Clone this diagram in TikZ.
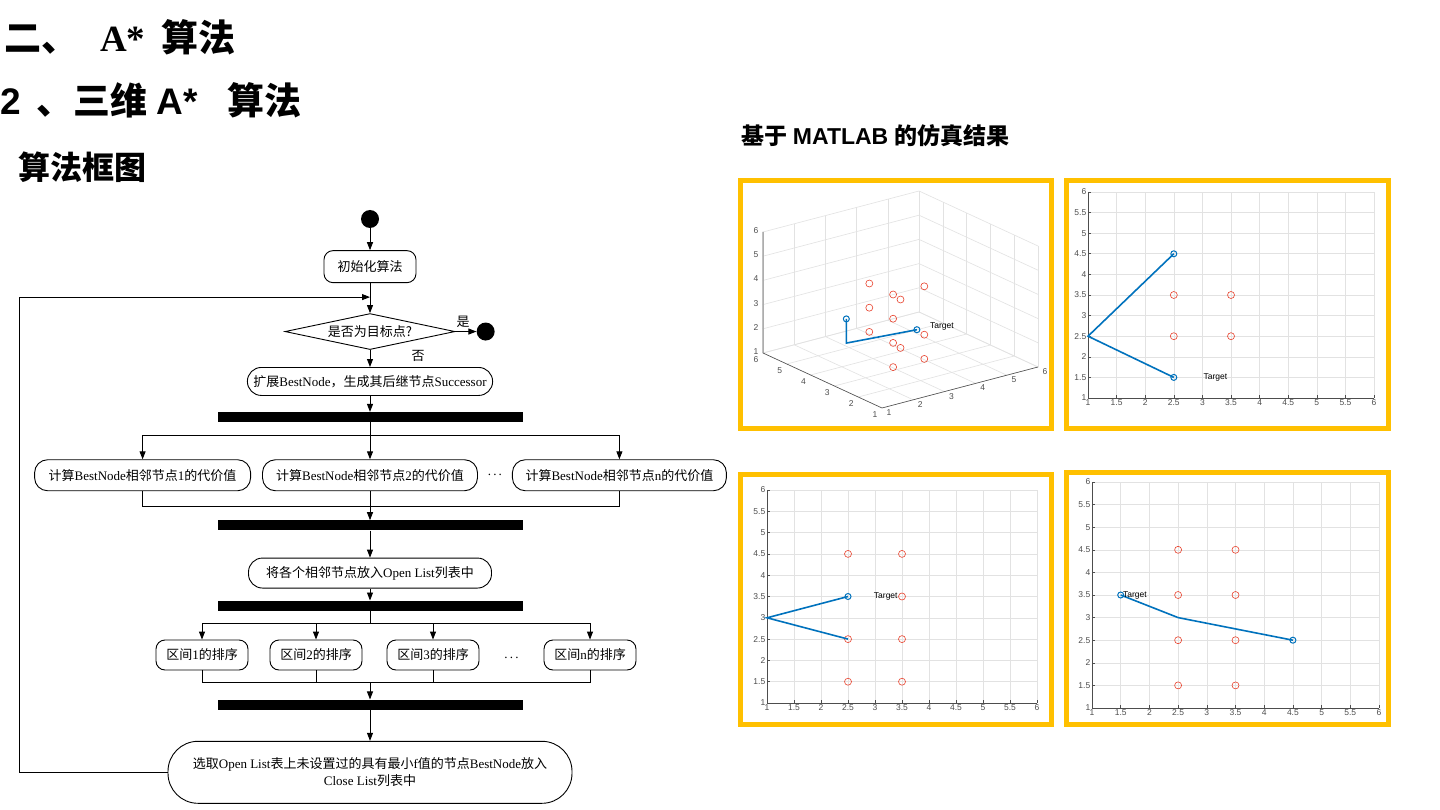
\documentclass[tikz,border=0pt]{standalone}
\usepackage{fontspec}
\setmainfont{Liberation Serif}
\setsansfont{Liberation Sans}
\newfontfamily\zh{Noto Sans CJK SC}
\usetikzlibrary{arrows.meta, positioning, shapes.geometric, calc}
\definecolor{framegold}{HTML}{FFC000}
\definecolor{pathblue}{HTML}{0072BD}
\definecolor{obsred}{HTML}{E8412C}
\definecolor{gridgray}{HTML}{E2E2E2}
\definecolor{axisgray}{HTML}{4D4D4D}

% grid, axes and tick labels of one 2-D result plot
\newcommand{\plotgrid}[1]{%
  \foreach \v in {1,1.5,...,6} {
    \draw[gridline] (\v,1) -- (\v,6);
    \draw[gridline] (1,\v) -- (6,\v);
  }
  \draw[axisline] (1,6) -- (1,1) -- (6,1);
  \foreach \v [count=\i] in {1,1.5,2,2.5,3,3.5,4,4.5,5,5.5,6} {
    \draw[axisline] (\v,1) -- ++(0pt,3pt);
    \draw[axisline] (1,\v) -- ++(3pt,0pt);
    \node[ticklab, below] (#1x\i) at (\v,1) {\v};
    \node[ticklab, left] (#1y\i) at (1,\v) {\v};
  }
}

\begin{document}
\begin{tikzpicture}[x=1pt, y=-1pt,
    >={Triangle[length=8pt,width=6pt]},
    actbox/.style={draw, line width=0.9pt, rounded corners=#1, minimum height=30pt, inner xsep=6pt, font=\fontsize{13}{17}\selectfont, align=center},
    actbox/.default=9pt,
    decision/.style={diamond, draw, line width=0.9pt, aspect=4.7, minimum width=170pt, minimum height=36pt, inner sep=0pt, font=\zh\fontsize{13}{15}\selectfont},
    syncbar/.style={fill=black, minimum width=305pt, minimum height=10pt, inner sep=0pt},
    blackdot/.style={circle, fill=black, minimum size=18pt, inner sep=0pt},
    arrow/.style={->, line width=0.9pt},
    link/.style={line width=0.9pt},
    lbl/.style={font=\zh\fontsize{13}{15}\selectfont, inner sep=1pt},
    gridline/.style={draw=gridgray, line width=0.6pt},
    axisline/.style={draw=axisgray, line width=0.6pt},
    ticklab/.style={font=\sffamily\fontsize{8.5}{9}\selectfont, text=axisgray, inner sep=1.5pt},
    plotframe/.style={draw=framegold, line width=5pt},
    route/.style={draw=pathblue, line width=1.6pt},
    obstacle/.style={draw=obsred, line width=0.6pt},
    endpt/.style={draw=pathblue, line width=1pt},
    tag/.style={font=\sffamily\fontsize{8.5}{9}\selectfont, inner sep=1pt},
]
\fill[white] (0,0) rectangle (1440,810);
\useasboundingbox (0,0) rectangle (1440,810);

% Headings
\node[anchor=west, inner sep=0pt, font=\fontsize{37}{40}\selectfont] (head) at (4,37)
  {{\zh\bfseries 二、}\hspace{22pt}\textbf{A*}\hspace{16pt}{\zh\bfseries 算法}};
\node[anchor=west, inner sep=0pt, font=\fontsize{37}{40}\selectfont\sffamily\bfseries] (subhead) at (0,100)
  {2\hspace{16pt}{\zh\bfseries 、三维}\hspace{9pt}A*\hspace{30pt}{\zh\bfseries 算法}};
\node[anchor=west, inner sep=0pt, font=\zh\bfseries\fontsize{32}{36}\selectfont] (chart) at (18,167) {算法框图};
\node[anchor=west, inner sep=0pt, font=\fontsize{23}{26}\selectfont] (result) at (741,136)
  {{\zh\bfseries 基于} \textsf{\textbf{MATLAB}} {\zh\bfseries 的仿真结果}};

% Flow chart: main column
\node[blackdot] (start) at (370,219) {};
\node[actbox, minimum width=92pt, minimum height=32pt, font=\zh\fontsize{13}{15}\selectfont, below=22pt of start] (init) {初始化算法};
\node[decision, below=30pt of init] (goal) {是否为目标点?};
\node[blackdot, right=21pt of goal] (stop) {};
\node[actbox=14pt, minimum width=244pt, minimum height=28pt, below=17pt of goal] (expand)
  {{\zh 扩展}BestNode{\zh ，生成其后继节点}Successor};
\node[syncbar, below=16pt of expand] (bar1) {};
\node[actbox=13pt, minimum width=215pt, minimum height=31pt, below=37pt of bar1] (c2)
  {{\zh 计算}BestNode{\zh 相邻节点}2{\zh 的代价值}};
\node[actbox=13pt, minimum width=216pt, minimum height=31pt, left=11pt of c2] (c1)
  {{\zh 计算}BestNode{\zh 相邻节点}1{\zh 的代价值}};
\node[actbox=13pt, minimum width=214pt, minimum height=31pt, right=34pt of c2] (c3)
  {{\zh 计算}BestNode{\zh 相邻节点}n{\zh 的代价值}};
\node[lbl, font=\fontsize{13}{15}\selectfont] (cdots) at ($(c2.east)!0.5!(c3.west)$) {.\,.\,.};
\node[syncbar, below=29pt of c2] (bar2) {};
\node[actbox=14pt, minimum width=243pt, below=27pt of bar2] (open)
  {{\zh 将各个相邻节点放入}Open List{\zh 列表中}};
\node[syncbar, below=12pt of open] (bar3) {};
\node[actbox, minimum width=92pt] (s1) at (202,655) {{\zh 区间}1{\zh 的排序}};
\node[actbox, minimum width=92pt] (s2) at (316,655) {{\zh 区间}2{\zh 的排序}};
\node[actbox, minimum width=92pt] (s3) at (433,655) {{\zh 区间}3{\zh 的排序}};
\node[actbox, minimum width=92pt] (s4) at (590,655) {{\zh 区间}n{\zh 的排序}};
\node[lbl, font=\fontsize{13}{15}\selectfont] (sdots) at ($(s3.east)!0.5!(s4.west)+(0,3)$) {.\,.\,.};
\node[syncbar, below=29pt of s2.south -| open] (bar4) {};
\node[actbox=30pt, minimum width=404pt, minimum height=62pt, below=31pt of bar4] (select)
  {{\zh 选取}Open List{\zh 表上未设置过的具有最小}f{\zh 值的节点}BestNode{\zh 放入}\\Close List{\zh 列表中}};

% Branch labels
\node[lbl, anchor=south west] (yes) at ($(goal.east)+(0,-3)$) {是};
\node[lbl] (no) at ($(goal.south)+(48,6)$) {否};

% Connectors
\coordinate (reentry) at ($(goal.north)+(0,-16)$);
\coordinate (fork1) at ($(bar1.south)+(0,13)$);
\coordinate (merge1) at ($(c2.south)+(0,15)$);
\coordinate (fork2) at ($(bar3.south)+(0,13)$);
\coordinate (merge2) at ($(s1.south -| open)+(0,12)$);
\draw[arrow] (start) -- (init);
\draw[arrow] (init) -- (goal);
\draw[arrow] (goal) -- (stop);
\draw[arrow] (goal) -- (expand);
\draw[arrow] (expand) -- (bar1);
\draw[link] (bar1) -- (fork1);
\draw[arrow] (fork1) -| (c1);
\draw[arrow] (fork1) -- (c2);
\draw[arrow] (fork1) -| (c3);
\draw[link] (c1) |- (merge1);
\draw[link] (c3) |- (merge1);
\draw[arrow] (c2) -- (bar2);
\draw[arrow] (bar2) -- (open);
\draw[arrow] (open) -- (bar3);
\draw[link] (bar3) -- (fork2);
\foreach \s in {s1,s2,s3,s4} {
  \draw[arrow] (fork2) -| (\s);
  \draw[link] (\s) |- (merge2);
}
\draw[arrow] (merge2) -- (bar4);
\draw[arrow] (bar4) -- (select);
\draw[arrow] (select.west) -- ++(-148,0) |- (reentry);

% Result frames
\draw[plotframe] (740.5,180.5) rectangle (1051.5,428.5);
\draw[plotframe] (1066.5,180.5) rectangle (1388.5,428.5);
\draw[plotframe] (740.5,474.5) rectangle (1051.5,724.5);
\draw[plotframe] (1066.5,472.5) rectangle (1388.5,724.5);

% 3-D view
\begin{scope}[shift={(874.6,451.4)}, x={(31.2pt,8.2pt)}, y={(-23.8pt,11pt)}, z={(0pt,24.2pt)}]
  \foreach \v in {1,...,6} {
    \draw[gridline] (\v,1,1) -- (\v,6,1);
    \draw[gridline] (1,\v,1) -- (6,\v,1);
    \draw[gridline] (\v,6,1) -- (\v,6,6);
    \draw[gridline] (1,6,\v) -- (6,6,\v);
    \draw[gridline] (6,\v,1) -- (6,\v,6);
    \draw[gridline] (6,1,\v) -- (6,6,\v);
  }
  \draw[axisline] (1,6,6) -- (1,6,1) -- (1,1,1) -- (6,1,1);
  \foreach \v in {1,...,6} {
    \node[ticklab, anchor=east, xshift=-3pt, yshift=1.5pt] (tlz\v) at (1,6,\v) {\v};
    \node[ticklab, anchor=north east, xshift=-3pt, yshift=-1.5pt] (tly\v) at (1,\v,1) {\v};
    \node[ticklab, anchor=north west, xshift=3pt] (tlx\v) at (\v,1,1) {\v};
  }
  \foreach \p in {(2.5,2.5,1.5),(2.5,2.5,2.5),(2.5,2.5,3.5),(2.5,2.5,4.5),
                  (2.5,3.5,2.5),(2.5,3.5,3.5),(2.5,3.5,4.5),
                  (3.5,2.5,1.5),(3.5,2.5,2.5),(3.5,2.5,4.5),
                  (3.5,3.5,1.5),(3.5,3.5,3.5)}
    \draw[obstacle] \p circle[radius=3.5pt];
  \draw[route] (1,2.5,4) -- (1,2.5,3) -- (2.5,1.5,3.5);
  \draw[endpt] (1,2.5,4) circle[radius=3pt];
  \draw[endpt] (2.5,1.5,3.5) circle[radius=3pt];
  \node[tag, anchor=west, xshift=12pt, yshift=3pt] (tltarget) at (2.5,1.5,3.5) {Target};
\end{scope}

% 2-D view, top right
\begin{scope}[shift={(1030.8,439.2)}, x=57.2pt, y=41.2pt]
  \plotgrid{tr}
  \foreach \p in {(2.5,3.5),(3.5,3.5),(2.5,2.5),(3.5,2.5)}
    \draw[obstacle] \p circle[radius=3.5pt];
  \draw[route] (2.5,4.5) -- (1,2.5) -- (2.5,1.5);
  \draw[endpt] (2.5,4.5) circle[radius=3pt];
  \draw[endpt] (2.5,1.5) circle[radius=3pt];
  \node[tag, anchor=west] (trtarget) at (3,1.5) {Target};
\end{scope}

% 2-D view, bottom left
\begin{scope}[shift={(713,745.6)}, x=54pt, y=42.6pt]
  \plotgrid{bl}
  \foreach \p in {(2.5,4.5),(3.5,4.5),(3.5,3.5),(2.5,2.5),(3.5,2.5),(2.5,1.5),(3.5,1.5)}
    \draw[obstacle] \p circle[radius=3.5pt];
  \draw[route] (2.5,3.5) -- (1,3) -- (2.5,2.5);
  \draw[endpt] (2.5,3.5) circle[radius=3pt];
  \node[tag, anchor=east] (bltarget) at (3.44,3.5) {Target};
\end{scope}

% 2-D view, bottom right
\begin{scope}[shift={(1034.6,753.2)}, x=57.4pt, y=45.2pt]
  \plotgrid{br}
  \foreach \p in {(2.5,4.5),(3.5,4.5),(2.5,3.5),(3.5,3.5),(2.5,2.5),(3.5,2.5),(2.5,1.5),(3.5,1.5)}
    \draw[obstacle] \p circle[radius=3.5pt];
  \draw[route] (1.5,3.5) -- (2.5,3) -- (3.5,2.75) -- (4.5,2.5);
  \draw[endpt] (1.5,3.5) circle[radius=3pt];
  \draw[endpt] (4.5,2.5) circle[radius=3pt];
  \node[tag, anchor=west] (brtarget) at (1.52,3.5) {Target};
\end{scope}
\end{tikzpicture}
\end{document}
